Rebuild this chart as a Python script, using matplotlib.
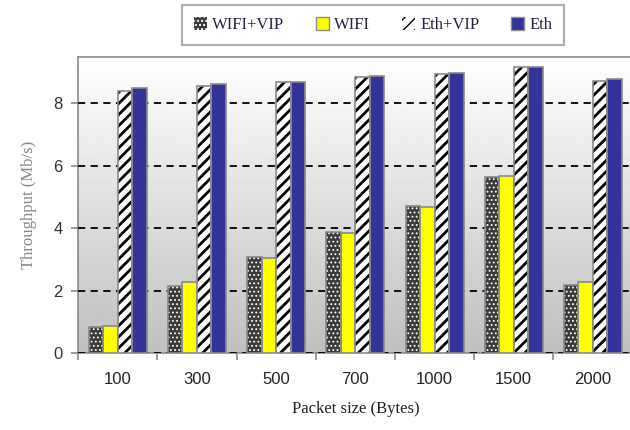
import numpy as np
import matplotlib as mpl
mpl.use('Agg')
import matplotlib.pyplot as plt
from matplotlib.patches import Patch

# data
sizes = ['100', '300', '500', '700', '1000', '1500', '2000']
wifi_vip = [0.83, 2.15, 3.08, 3.86, 4.70, 5.64, 2.18]
wifi = [0.86, 2.28, 3.05, 3.83, 4.68, 5.67, 2.28]
eth_vip = [8.39, 8.54, 8.69, 8.82, 8.93, 9.16, 8.71]
eth = [8.49, 8.61, 8.69, 8.87, 8.97, 9.16, 8.77]
series = ['WIFI+VIP', 'WIFI', 'Eth+VIP', 'Eth']

serif = ['Liberation Serif', 'DejaVu Serif']
sans = ['Liberation Sans', 'DejaVu Sans']

fig = plt.figure(figsize=(6.3, 4.3), dpi=100)
ax = fig.add_axes([0.124, 0.179, 0.88, 0.688])

# gradient background, white at top to gray at bottom
grad = np.linspace(0.75, 1.0, 256).reshape(-1, 1)
ax.imshow(grad, extent=[0, 1, 0, 1], transform=ax.transAxes, cmap='gray',
          vmin=0, vmax=1, aspect='auto', origin='lower', zorder=0)

x = np.arange(len(sizes))
w = 0.183
offs = [-1.5 * w, -0.5 * w, 0.5 * w, 1.5 * w]
edge = '#8a8a8a'
dots = dict(color='#3a3a3a', edgecolor='white', hatch='....', linewidth=0)
stripes = dict(color='white', edgecolor='black', hatch='///', linewidth=0)

# WIFI+VIP: dark with white dotted pattern
with plt.rc_context({'hatch.linewidth': 0.8}):
    ax.bar(x + offs[0], wifi_vip, w, zorder=3, **dots)
    h_dots = Patch(**{k: v for k, v in dots.items() if k != 'color'}, facecolor='#3a3a3a')
ax.bar(x + offs[0], wifi_vip, w, fill=False, edgecolor=edge, linewidth=1.2, zorder=4)
# WIFI
ax.bar(x + offs[1], wifi, w, color='#ffff00', edgecolor=edge, linewidth=1.2, zorder=3)
# Eth+VIP: white with black stripes
with plt.rc_context({'hatch.linewidth': 2.0}):
    ax.bar(x + offs[2], eth_vip, w, zorder=3, **stripes)
    h_stripes = Patch(facecolor='white', edgecolor='black', hatch='///', linewidth=0)
ax.bar(x + offs[2], eth_vip, w, fill=False, edgecolor=edge, linewidth=1.2, zorder=4)
# Eth
ax.bar(x + offs[3], eth, w, color='#333399', edgecolor=edge, linewidth=1.2, zorder=3)

ax.set_xlim(-0.5, len(sizes) - 0.5)
ax.set_ylim(0, 9.47)
ax.set_yticks([0, 2, 4, 6, 8])
ax.yaxis.grid(True, color='black', linestyle=(0, (4, 3)), linewidth=1.3, zorder=1)
ax.set_axisbelow(False)

ax.set_xticks(x)
ax.set_xticklabels(sizes, fontsize=12, family=sans, color='#222222')
ax.set_xticks(np.arange(len(sizes) + 1) - 0.5, minor=True)
ax.tick_params(axis='x', which='major', length=0, pad=14)
ax.tick_params(axis='x', which='minor', length=5, color=edge, width=1.2)
ax.tick_params(axis='y', length=5, color=edge, width=1.2, labelsize=12,
               labelcolor='#333333', pad=6)
for lab in ax.get_yticklabels():
    lab.set_family(sans)

for s in ax.spines.values():
    s.set_color(edge)
    s.set_linewidth(1.2)

ax.set_xlabel('Packet size (Bytes)', fontsize=12, family=serif, color='#222222', labelpad=10)
ax.set_ylabel('Throughput (Mb/s)', fontsize=12, family=serif, color='#888888', labelpad=12)

handles = [
    h_dots,
    Patch(facecolor='#ffff00', edgecolor=edge),
    h_stripes,
    Patch(facecolor='#333399', edgecolor=edge),
]
leg = fig.legend(handles, series, loc='center', bbox_to_anchor=(373 / 630, 1 - 25 / 430),
                 ncol=4, frameon=True, fancybox=False, handlelength=0.8, handleheight=0.8,
                 handletextpad=0.3, columnspacing=1.9, borderpad=0.7,
                 prop={'family': serif, 'size': 12})
leg.get_frame().set_edgecolor('#999999')
leg.get_frame().set_linewidth(1.5)
for t in leg.get_texts():
    t.set_color('#222244')

fig.savefig('out.png', dpi=100)
